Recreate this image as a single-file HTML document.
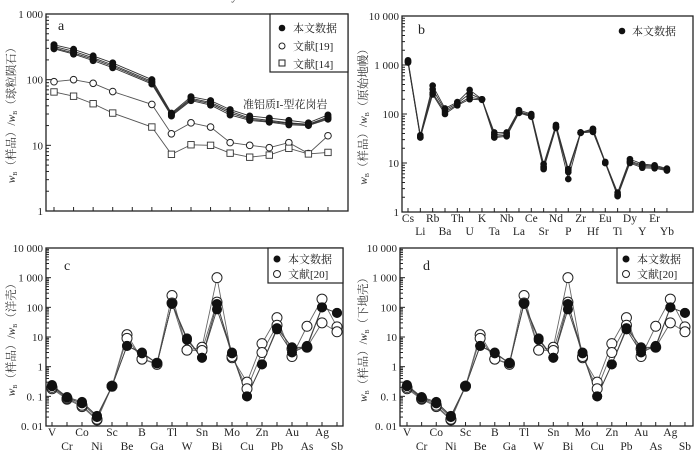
<!DOCTYPE html>
<html><head><meta charset="utf-8">
<style>
html,body{margin:0;padding:0;background:#fff;}
svg{display:block;font-family:"Liberation Serif","Noto Serif CJK SC",serif;}
</style></head>
<body>
<svg id="fig" width="700" height="462" viewBox="0 0 700 462"></svg>
<script>
// ---------- Panel a data (REE, chondrite normalized) ----------
const reeCats = ["La","Ce","Pr","Nd","Pm","Sm","Eu","Gd","Tb","Dy","Ho","Er","Tm","Yb","Lu"];
const reeLabels = ["La","Ce","Pr","Nd","","Sm","Eu","Gd","Tb","Dy","Ho","Er","Tm","Yb","Lu"];
const reeThis1 = [340,290,230,180,null,100,31,55,48,35,28,26,24,22,29];
const reeThis2 = [320,270,215,168,null,94,30,52,45,33,26,24,22,21,27];
const reeThis3 = [305,255,205,160,null,90,29,50,43,31,25,23,21.5,20.5,26];
const reeThis4 = [295,245,195,152,null,86,28,48,41,29,24,22.5,20.5,20,25];
const reeRef19 = [93,100,88,66,null,42,15,22,19,11,10,9.2,11,7.5,14];
const reeRef14 = [65,56,43,31,null,19,7.3,10.2,10,7.6,6.6,7.1,9,7.4,7.8];
const aTicks = [1,10,100,1000];
const aTickLabels = ["1","10","100","1 000"];

// ---------- Panel b data (spider, primitive mantle) ----------
const spCats = ["Cs","Li","Rb","Ba","Th","U","K","Ta","Nb","La","Ce","Sr","Nd","P","Zr","Hf","Eu","Ti","Dy","Y","Er","Yb"];
const spS1 = [1250,37,380,130,175,310,200,42,42,120,100,9.5,60,7.5,42,50,10.5,2.5,12,9.5,9,7.7];
const spS2 = [1200,35,320,120,165,260,200,38,40,112,96,8.5,56,7,42,48,10.2,2.3,11,9,8.6,7.4];
const spS3 = [1150,34,270,110,155,220,200,35,37,108,92,8,54,6.5,42,45,10,2.2,10.5,8.5,8.2,7.2];
const spS4 = [1120,33,250,100,150,200,195,33,35,105,88,7.5,52,4.7,41,43,10,2.1,10,8,7.8,7];
const bTicks = [1,10,100,1000,10000];
const bTickLabels = ["1","10","100","1 000","10 000"];

// ---------- Panels c/d data (trace elements) ----------
const teCats = ["V","Cr","Co","Ni","Sc","Be","B","Ga","Tl","W","Sn","Bi","Mo","Cu","Zn","Pb","Au","As","Ag","Sb"];
const teThis1 = [0.24,0.095,0.065,0.022,0.22,5,3,1.3,130,8,2,130,3,0.1,1.2,20,4.5,4.5,100,65];
const teThis2 = [0.22,0.09,0.058,0.02,0.22,5,2.8,1.3,135,9,2,85,2.8,0.1,1.2,18,3,5,100,65];
const teRef1 = [0.18,0.08,0.045,0.016,0.22,12,1.8,1.3,250,3.6,4.5,1000,2,0.3,6,45,2.2,23,190,22];
const teRef2 = [0.2,0.085,0.05,0.017,0.22,9,1.8,1.2,140,3.6,3.5,150,2.2,0.18,3,25,4,4.5,30,15];
const cTicks = [0.01,0.1,1,10,100,1000,10000];
const cTickLabels = ["0. 01","0. 1","1","10","100","1 000","10 000"];

const NS="http://www.w3.org/2000/svg";
const svg=document.getElementById('fig');
function mk(tag,attrs,parent){const e=document.createElementNS(NS,tag);for(const k in attrs)e.setAttribute(k,attrs[k]);(parent||svg).appendChild(e);return e;}
function txt(s,attrs,parent){const e=mk('text',attrs,parent);e.textContent=s;return e;}

function panel(cfg){
  const g=mk('g',{});
  
  
  const L=cfg.L,R=cfg.R,T=cfg.T,B=cfg.B;
  const lmin=Math.log10(cfg.ymin),lmax=Math.log10(cfg.ymax);
  const y=v=>B-(Math.log10(v)-lmin)/(lmax-lmin)*(B-T);
  const x=i=>cfg.x0+i*cfg.step;
  const frame=mk('rect',{x:L,y:T,width:R-L,height:B-T,fill:'none',stroke:'#222','stroke-width':1.3},g);
  
  
  cfg.ticks.forEach((t,i)=>{
    mk('line',{x1:L,x2:L+5,y1:y(t),y2:y(t),stroke:'#222'},g);
    const lb=txt(cfg.tickLabels[i],{x:L-3,y:y(t)+4,'font-size':11,'text-anchor':'end',fill:'#222'},g);
    
    
    if(i<cfg.ticks.length-1){for(let m=2;m<10;m++){const yy=y(t*m);mk('line',{x1:L,x2:L+3,y1:yy,y2:yy,stroke:'#222'},g);}}
  });
  cfg.labels.forEach((s,i)=>{
    mk('line',{x1:x(i),x2:x(i),y1:B,y2:B-4,stroke:'#222'},g);
    if(!s)return;
    const row=cfg.twoRow?(i%2):0;
    const lb=txt(s,{x:x(i),y:cfg.labY+row*cfg.rowGap,'font-size':11.5,'text-anchor':'middle',fill:'#222'},g);
    
    
  });
  const yt=txt('',{transform:`translate(${cfg.ytx},${(T+B)/2}) rotate(-90)`,'font-size':11.5,'text-anchor':'middle',fill:'#333'},g);
  
  
  yt.innerHTML=`<tspan font-style="italic">w</tspan><tspan font-size="6" dy="2">B</tspan><tspan dy="-2">（样品）/</tspan><tspan font-style="italic">w</tspan><tspan font-size="6" dy="2">B</tspan><tspan dy="-2">（${cfg.ref}）</tspan>`;
  const pl=txt(cfg.letter,{x:cfg.letX,y:cfg.letY,'font-size':14,fill:'#222'},g);
  
  
  cfg.series.forEach(s=>{
    let d='';let pen=false;
    s.data.forEach((v,i)=>{if(v==null){return;}d+=(pen?'L':'M')+x(i)+','+y(v);pen=true;});
    const p=mk('path',{d,fill:'none',stroke:s.line||'#555','stroke-width':s.lw||0.9},g);
    
    
  });
  cfg.series.forEach(s=>{
    s.data.forEach((v,i)=>{
      if(v==null)return;
      let m;
      if(s.marker==='square')m=mk('rect',{x:x(i)-s.r,y:y(v)-s.r,width:2*s.r,height:2*s.r,fill:'#fff',stroke:'#333','stroke-width':0.9},g);
      else if(s.marker==='open')m=mk('circle',{cx:x(i),cy:y(v),r:s.r,fill:'#fff',stroke:'#222','stroke-width':1},g);
      else m=mk('circle',{cx:x(i),cy:y(v),r:s.r,fill:'#111'},g);
      
      
    });
  });
  return {g,x,y};
}

const pa=panel({name:'panel-a-ree',L:46,R:348,T:14,B:211,ymin:1,ymax:1000,x0:54,step:19.57,labels:reeLabels,labY:224,ticks:aTicks,tickLabels:aTickLabels,ytx:15,ref:'球粒陨石',letter:'a',letX:58,letY:30,
 series:[
  {name:'this-study-1',data:reeThis1,marker:'filled',r:3.5,line:'#333'},
  {name:'this-study-2',data:reeThis2,marker:'filled',r:3.5,line:'#333'},
  {name:'this-study-3',data:reeThis3,marker:'filled',r:3.5,line:'#333'},
  {name:'this-study-4',data:reeThis4,marker:'filled',r:3.5,line:'#333'},
  {name:'ref-19',data:reeRef19,marker:'open',r:3.3,line:'#555'},
  {name:'ref-14',data:reeRef14,marker:'square',r:3.2,line:'#555'}]});
const an=txt('准铝质I-型花岗岩',{x:243,y:108,'font-size':11,fill:'#222'},pa.g);


(function(){
  const lg=mk('g',{},pa.g);
  
  
  mk('rect',{x:270,y:14,width:78,height:58,fill:'#fff',stroke:'#222','stroke-width':1.2},lg);
  mk('circle',{cx:282,cy:28,r:3.3,fill:'#111'},lg);
  mk('circle',{cx:282,cy:46,r:3,fill:'#fff',stroke:'#222'},lg);
  mk('rect',{x:279,y:60,width:6,height:6,fill:'#fff',stroke:'#222'},lg);
  [['本文数据',32],['文献[19]',50],['文献[14]',68]].forEach(a=>{const t=txt(a[0],{x:293,y:a[1],'font-size':11,fill:'#222'},lg);});
})();

const pb=panel({name:'panel-b-spider',L:402,R:693,T:16,B:212,ymin:1,ymax:10000,x0:408,step:12.33,labels:spCats,twoRow:true,labY:222,rowGap:13,ticks:bTicks,tickLabels:bTickLabels,ytx:367,ref:'原始地幔',letter:'b',letX:418,letY:34,
 series:[
  {name:'this-study-1',data:spS1,marker:'filled',r:3.3,line:'#333'},
  {name:'this-study-2',data:spS2,marker:'filled',r:3.3,line:'#333'},
  {name:'this-study-3',data:spS3,marker:'filled',r:3.3,line:'#333'},
  {name:'this-study-4',data:spS4,marker:'filled',r:3.3,line:'#333'}]});
(function(){
  const lg=mk('g',{},pb.g);
  
  
  mk('circle',{cx:622,cy:31,r:3.3,fill:'#111'},lg);
  const t=txt('本文数据',{x:632,y:35,'font-size':11,fill:'#222'},lg);
  
  
})();

function tePanel(name,L,R,x0,step,ytx,ref,letter,letX,legX){
  const p=panel({name,L,R,T:248,B:426,ymin:0.01,ymax:10000,x0,step,labels:teCats,twoRow:true,labY:436,rowGap:14,ticks:cTicks,tickLabels:cTickLabels,ytx,ref,letter,letX,letY:270,
   series:[
    {name:'ref-20-a',data:teRef1,marker:'open',r:5,line:'#666'},
    {name:'ref-20-b',data:teRef2,marker:'open',r:5,line:'#666'},
    {name:'this-study-1',data:teThis1,marker:'filled',r:5,line:'#444'},
    {name:'this-study-2',data:teThis2,marker:'filled',r:5,line:'#444'}]});
  const lg=mk('g',{},p.g);
  
  
  mk('rect',{x:legX,y:248,width:R-legX,height:35,fill:'#fff',stroke:'#222','stroke-width':1.2},lg);
  mk('circle',{cx:legX+9,cy:259,r:3.5,fill:'#111'},lg);
  mk('circle',{cx:legX+9,cy:274,r:3.5,fill:'#fff',stroke:'#222'},lg);
  [['本文数据',263],['文献[20]',278]].forEach(a=>{const t=txt(a[0],{x:legX+20,y:a[1],'font-size':11,fill:'#222'},lg);});
}
tePanel('panel-c-crust',46,343,52,15.0,15,'洋壳','c',64,268);
tePanel('panel-d-lower-crust',400,693,407,14.63,367,'下地壳','d',423,617);
</script>
</body></html>
